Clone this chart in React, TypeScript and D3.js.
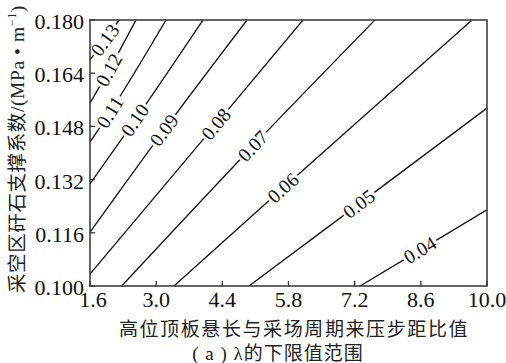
import React, { useEffect, useRef } from 'react';
import * as d3 from 'd3';

const xTicks = [1.6, 3.0, 4.4, 5.8, 7.2, 8.6, 10.0];
const yTicks = [0.100, 0.116, 0.132, 0.148, 0.164, 0.180];
const levelLabels = ['0.13', '0.12', '0.11', '0.10', '0.09', '0.08', '0.07', '0.06', '0.05', '0.04'];

// contour lines: [start, label point, end]
const c013 = [[1.6, 0.1680], [1.917, 0.1740], [2.214, 0.180]];
const c012 = [[1.6, 0.1550], [2.002, 0.1650], [2.573, 0.180]];
const c011 = [[1.6, 0.1433], [2.023, 0.1523], [3.208, 0.180]];
const c010 = [[1.6, 0.1307], [2.552, 0.1499], [3.991, 0.180]];
const c009 = [[1.6, 0.1162], [3.166, 0.1469], [4.922, 0.180]];
const c008 = [[1.6, 0.1036], [4.266, 0.1487], [6.107, 0.180]];
const c007 = [[2.271, 0.100], [5.049, 0.1421], [7.630, 0.180]];
const c006 = [[3.377, 0.100], [5.684, 0.1295], [9.683, 0.180]];
const c005 = [[4.964, 0.100], [7.292, 0.1247], [10.0, 0.1535]];
const c004 = [[7.313, 0.100], [8.582, 0.1108], [10.0, 0.1229]];
const contours = [c013, c012, c011, c010, c009, c008, c007, c006, c005, c004];

const xTitle = '高位顶板悬长与采场周期来压步距比值';
const yTitle = '采空区矸石支撑系数/(MPa • m';
const caption = '( a ) λ的下限值范围';

const ContourChart = () => {
  const chartRef = useRef<HTMLDivElement>(null);

  useEffect(() => {
    drawChart();
  }, []);

  const drawChart = () => {
    const width = 506, height = 363;
    const margin = { top: 20, right: 19, bottom: 77, left: 90 };
    const serif = "'Liberation Serif', 'Times New Roman', 'DejaVu Serif', 'Noto Sans CJK SC', serif";

    d3.select(chartRef.current).select('svg').remove();

    const svg = d3.select(chartRef.current)
      .append('svg')
      .attr('width', width)
      .attr('height', height)
      .style('display', 'block')
      .style('background', '#fff');

    const x = d3.scaleLinear().domain([1.6, 10.0]).range([margin.left, width - margin.right]);
    const y = d3.scaleLinear().domain([0.100, 0.180]).range([height - margin.bottom, margin.top]);

    svg.append('clipPath').attr('id', 'plot-clip')
      .append('rect')
      .attr('x', x(1.6)).attr('y', y(0.180))
      .attr('width', x(10) - x(1.6)).attr('height', y(0.1) - y(0.18));

    const line = d3.line<number[]>()
      .x(d => x(d[0]))
      .y(d => y(d[1]))
      .curve(d3.curveMonotoneX);

    const g = svg.append('g').attr('clip-path', 'url(#plot-clip)');

    contours.forEach(pts => {
      g.append('path')
        .attr('d', line(pts))
        .style('fill', 'none')
        .style('stroke', '#111')
        .style('stroke-width', 1.3);
    });

    // labels on the lines, with a white gap behind
    contours.forEach((pts, i) => {
      const p0 = pts[0], p1 = pts[1], p2 = pts[2];
      const ang = Math.atan2(y(p2[1]) - y(p0[1]), x(p2[0]) - x(p0[0])) * 180 / Math.PI;
      const lg = g.append('g')
        .attr('transform', `translate(${x(p1[0])},${y(p1[1])}) rotate(${ang})`);
      const bg = lg.append('rect').style('fill', '#fff');
      const t = lg.append('text')
        .attr('text-anchor', 'middle')
        .attr('dy', '0.34em')
        .attr('font-family', serif)
        .attr('font-size', 19.5)
        .style('fill', '#111')
        .text(levelLabels[i]);
      const len = (t.node() as SVGTextElement).getComputedTextLength();
      bg.attr('x', -len / 2 - 2).attr('y', -8).attr('width', len + 4).attr('height', 16);
    });

    // frame
    svg.append('rect')
      .attr('x', x(1.6)).attr('y', y(0.180))
      .attr('width', x(10) - x(1.6)).attr('height', y(0.1) - y(0.18))
      .style('fill', 'none')
      .style('stroke', '#333')
      .style('stroke-width', 1.5);

    // ticks (inward)
    xTicks.forEach((v, i) => {
      svg.append('line')
        .attr('x1', x(v)).attr('x2', x(v))
        .attr('y1', y(0.1)).attr('y2', y(0.1) - 5)
        .style('stroke', '#333').style('stroke-width', 1.3);
      svg.append('text')
        .attr('x', x(v) + (i === 0 ? 3 : 0))
        .attr('y', y(0.1) + 21)
        .attr('text-anchor', 'middle')
        .attr('font-family', serif)
        .attr('font-size', 22)
        .style('fill', '#111')
        .text(v.toFixed(1));
    });

    yTicks.forEach(v => {
      svg.append('line')
        .attr('x1', x(1.6)).attr('x2', x(1.6) + 5)
        .attr('y1', y(v)).attr('y2', y(v))
        .style('stroke', '#333').style('stroke-width', 1.3);
      svg.append('text')
        .attr('x', x(1.6) - 6)
        .attr('y', y(v) + 9)
        .attr('text-anchor', 'end')
        .attr('font-family', serif)
        .attr('font-size', 22)
        .style('fill', '#111')
        .text(v.toFixed(3));
    });

    svg.append('text')
      .attr('x', 294)
      .attr('y', 336)
      .attr('text-anchor', 'middle')
      .attr('font-family', serif)
      .attr('font-size', 19)
      .style('letter-spacing', '1.6px')
      .style('fill', '#222')
      .text(xTitle);

    svg.append('text')
      .attr('x', 278)
      .attr('y', 360)
      .attr('text-anchor', 'middle')
      .attr('font-family', serif)
      .attr('font-size', 19)
      .style('letter-spacing', '1px')
      .style('fill', '#222')
      .text(caption);

    const yt = svg.append('text')
      .attr('transform', 'translate(24,293) rotate(-90)')
      .attr('font-family', serif)
      .attr('font-size', 19.5)
      .style('letter-spacing', '0.6px')
      .style('fill', '#222');
    yt.append('tspan').text(yTitle);
    yt.append('tspan').attr('dy', -8).attr('font-size', 12).text('−1');
    yt.append('tspan').attr('dy', 8).text(')');
  };

  return <div ref={chartRef}></div>;
};

export default function App() {
  return (
    <div style={{ position: 'absolute', left: 0, top: 0 }}>
      <ContourChart />
    </div>
  );
}
